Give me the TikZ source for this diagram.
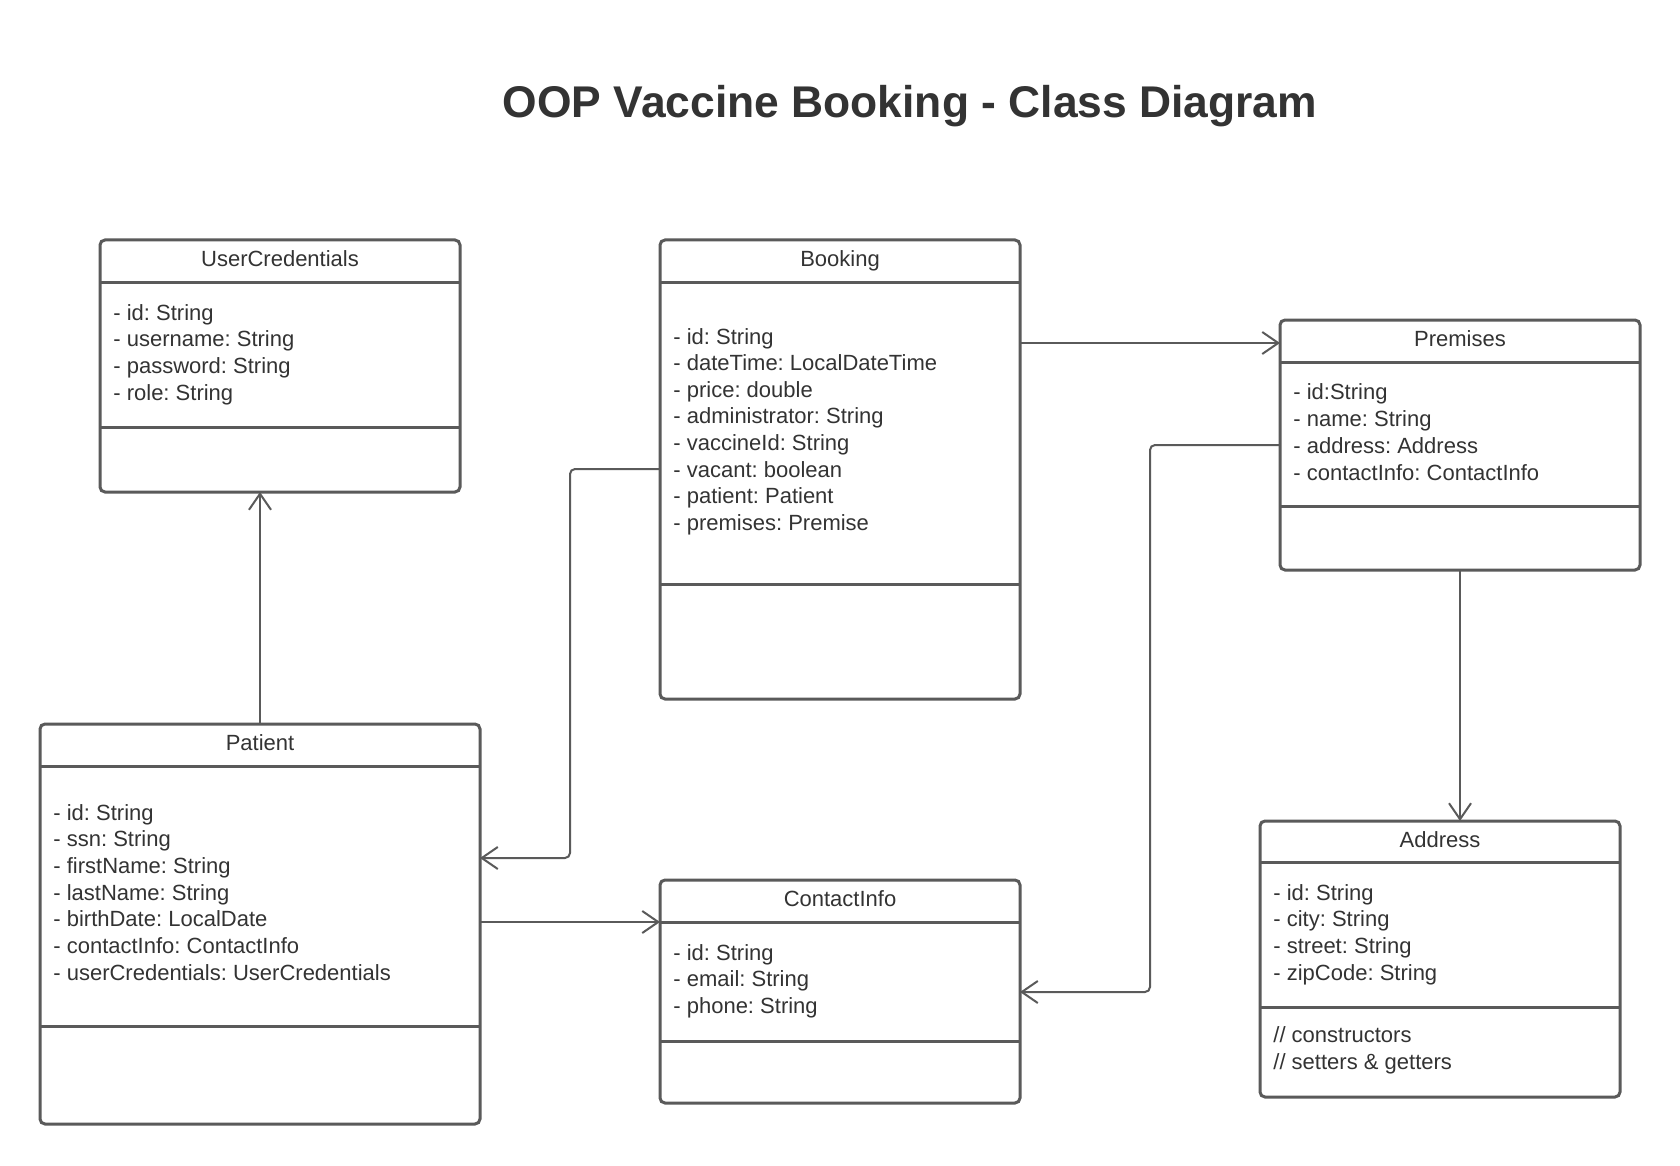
\documentclass[tikz,border=0pt]{standalone}
\usepackage{fontspec}
\setmainfont{Liberation Sans}
\usetikzlibrary{arrows.meta,calc}
\definecolor{linec}{HTML}{5A5A5A}
\definecolor{txtc}{HTML}{333333}
\frenchspacing
\begin{document}
\begin{tikzpicture}[x=0.5pt,y=-0.5pt,
  classbox/.style={draw=linec, line width=1.5pt, rounded corners=2.5pt, anchor=north west, inner sep=0pt, outer sep=0pt},
  divline/.style={draw=linec, line width=1.5pt},
  conn/.style={draw=linec, line width=1pt, -{Straight Barb[length=8pt,width=11pt]}, rounded corners=2.5pt},
  hdr/.style={font=\fontsize{11pt}{13pt}\selectfont, text=txtc, inner sep=0pt, anchor=base},
  attr/.style={font=\fontsize{11pt}{13pt}\selectfont, text=txtc, inner sep=0pt, anchor=base west},
]
\useasboundingbox (0,0) rectangle (1680,1166);
\fill[white] (0,0) rectangle (1680,1166);

\node[font=\fontsize{22.2pt}{27pt}\selectfont\bfseries, text=txtc, anchor=base, inner sep=0pt] (title) at (910,118) {OOP Vaccine Booking - Class Diagram};

% UserCredentials
\node[classbox, minimum width=180pt, minimum height=126pt] (uc) at (100,240) {};
\draw[divline] (100,282) -- (460,282);
\draw[divline] (100,427) -- (460,427);
\node[hdr] (uc-t) at (280,266) {UserCredentials};
\foreach \t [count=\i from 0] in {- id: String, - username: String, - password: String, - role: String}
  \node[attr] (uc-a\i) at (113,{320+26.7*\i}) {\t};

% Booking
\node[classbox, minimum width=180pt, minimum height=229.5pt] (booking) at (660,240) {};
\draw[divline] (660,282) -- (1020,282);
\draw[divline] (660,584) -- (1020,584);
\node[hdr] (booking-t) at (840,266) {Booking};
\foreach \t [count=\i from 0] in {- id: String, - dateTime: LocalDateTime, - price: double, - administrator: String, - vaccineId: String, - vacant: boolean, - patient: Patient, - premises: Premise}
  \node[attr] (booking-a\i) at (673,{344+26.6*\i}) {\t};

% Premises
\node[classbox, minimum width=180pt, minimum height=125pt] (premises) at (1280,320) {};
\draw[divline] (1280,362) -- (1640,362);
\draw[divline] (1280,506) -- (1640,506);
\node[hdr] (premises-t) at (1460,346) {Premises};
\foreach \t [count=\i from 0] in {- id:String, - name: String, - address: Address, - contactInfo: ContactInfo}
  \node[attr] (premises-a\i) at (1293,{399+27*\i}) {\t};

% Patient
\node[classbox, minimum width=220pt, minimum height=200pt] (patient) at (40,724) {};
\draw[divline] (40,766) -- (480,766);
\draw[divline] (40,1026) -- (480,1026);
\node[hdr] (patient-t) at (260,750) {Patient};
\foreach \t [count=\i from 0] in {- id: String, - ssn: String, - firstName: String, - lastName: String, - birthDate: LocalDate, - contactInfo: ContactInfo, - userCredentials: UserCredentials}
  \node[attr] (patient-a\i) at (53,{820+26.7*\i}) {\t};

% ContactInfo
\node[classbox, minimum width=180pt, minimum height=111.5pt] (contact) at (660,880) {};
\draw[divline] (660,922) -- (1020,922);
\draw[divline] (660,1041) -- (1020,1041);
\node[hdr] (contact-t) at (840,906) {ContactInfo};
\foreach \t [count=\i from 0] in {- id: String, - email: String, - phone: String}
  \node[attr] (contact-a\i) at (673,{960+26.6*\i}) {\t};

% Address
\node[classbox, minimum width=180pt, minimum height=138pt] (address) at (1260,821) {};
\draw[divline] (1260,862) -- (1620,862);
\draw[divline] (1260,1007) -- (1620,1007);
\node[hdr] (address-t) at (1440,847) {Address};
\foreach \t [count=\i from 0] in {- id: String, - city: String, - street: String, - zipCode: String}
  \node[attr] (address-a\i) at (1273,{900+26.7*\i}) {\t};
\node[attr] (address-m0) at (1273,1042) {// constructors};
\node[attr] (address-m1) at (1273,1069) {// setters \& getters};

% Connectors
\draw[conn] (patient.north) -- (patient.north |- uc.south);
\draw[conn] ($(booking.north east)+(0,103)$) -- ($(premises.north west)+(0,23)$);
\draw[conn] ($(booking.north west)+(0,229)$) -- ++(-90,0) |- ($(patient.north east)+(0,134)$);
\draw[conn] ($(premises.north west)+(0,125)$) -- ++(-130,0) |- ($(contact.north east)+(0,112)$);
\draw[conn] ($(patient.north east)+(0,198)$) -- ($(contact.north west)+(0,42)$);
\draw[conn] (premises.south) -- (premises.south |- address.north);
\end{tikzpicture}
\end{document}
